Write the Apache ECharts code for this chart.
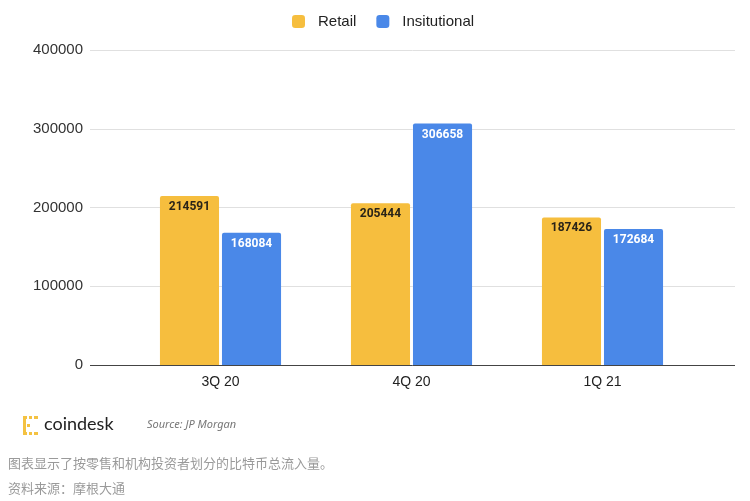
<!DOCTYPE html>
<html>
<head>
<meta charset="utf-8">
<script src="https://cdn.jsdelivr.net/npm/echarts@6/dist/echarts.min.js"></script>
<style>html,body{margin:0;padding:0;background:#fff}#c{width:750px;height:501px}</style>
</head>
<body>
<div id="c"></div>
<script>
const categories = ['3Q 20', '4Q 20', '1Q 21'];
const retail = [214591, 205444, 187426];
const institutional = [168084, 306658, 172684];
const seriesNames = ['Retail', 'Insitutional'];
const yMin = 0, yMax = 400000, yInterval = 100000;

const chart = echarts.init(document.getElementById('c'));
const labelBase = { show: true, position: 'insideTop', distance: 5, fontSize: 12, fontWeight: 'bold', fontFamily: 'Roboto, Arial, sans-serif' };
chart.setOption({
  animation: false,
  backgroundColor: '#ffffff',
  legend: {
    top: 9, left: 287, itemWidth: 13, itemHeight: 13, itemGap: 20,
    icon: 'roundRect',
    textStyle: { fontSize: 15, color: '#222', fontFamily: 'Arial, Liberation Sans, sans-serif', padding: [0, 0, 0, 8] },
    data: seriesNames
  },
  grid: [
    { left: 125, right: 52, top: 50, bottom: 136, containLabel: false },
    { left: 90, right: 15, top: 50, bottom: 136, containLabel: false }
  ],
  xAxis: [
    { type: 'category', gridIndex: 0, data: categories,
      axisLine: { show: false }, axisTick: { show: false },
      axisLabel: { fontSize: 14, color: '#222', margin: 10, fontFamily: 'Arial, Liberation Sans, sans-serif' } },
    { type: 'value', gridIndex: 1, show: false, min: 0, max: 1 }
  ],
  yAxis: [
    { type: 'value', gridIndex: 0, min: yMin, max: yMax, interval: yInterval,
      axisLine: { show: false }, axisTick: { show: false }, splitLine: { show: false },
      axisLabel: { show: false } },
    { type: 'value', gridIndex: 1, min: yMin, max: yMax, interval: yInterval,
      axisLine: { show: false }, axisTick: { show: false },
      splitLine: { show: true, lineStyle: { color: '#e0e0e0', width: 1 } },
      axisLabel: { fontSize: 15, color: '#333', margin: 7, fontFamily: 'Arial, Liberation Sans, sans-serif',
        formatter: function (v) { return String(v); } } }
  ],
  series: [
    { name: seriesNames[0], type: 'bar', xAxisIndex: 0, yAxisIndex: 0, data: retail,
      barCategoryGap: '36.6%', barGap: '5%',
      itemStyle: { color: '#F6BE3E', borderRadius: [2, 2, 0, 0] },
      label: Object.assign({ color: '#2a2418' }, labelBase) },
    { name: seriesNames[1], type: 'bar', xAxisIndex: 0, yAxisIndex: 0, data: institutional,
      barCategoryGap: '36.6%', barGap: '5%',
      itemStyle: { color: '#4A88E8', borderRadius: [2, 2, 0, 0] },
      label: Object.assign({ color: '#ffffff' }, labelBase) },
    { type: 'line', xAxisIndex: 1, yAxisIndex: 1, data: [], silent: true,
      markLine: { silent: true, symbol: 'none', label: { show: false },
        lineStyle: { color: '#444', width: 1, type: 'solid' },
        data: [{ yAxis: 0 }] } }
  ],
  graphic: [
    { type: 'rect', left: 23, top: 416, shape: { width: 3, height: 19 }, style: { fill: '#F4C242' } },
    { type: 'rect', left: 23, top: 416, shape: { width: 4, height: 3 }, style: { fill: '#F4C242' } },
    { type: 'rect', left: 29, top: 416, shape: { width: 3, height: 3 }, style: { fill: '#F4C242' } },
    { type: 'rect', left: 34, top: 416, shape: { width: 4, height: 3 }, style: { fill: '#F4C242' } },
    { type: 'rect', left: 23, top: 432, shape: { width: 4, height: 3 }, style: { fill: '#F4C242' } },
    { type: 'rect', left: 29, top: 432, shape: { width: 3, height: 3 }, style: { fill: '#F4C242' } },
    { type: 'rect', left: 34, top: 432, shape: { width: 4, height: 3 }, style: { fill: '#F4C242' } },
    { type: 'rect', left: 27, top: 424, shape: { width: 3, height: 3 }, style: { fill: '#F4C242' } },
    { type: 'text', left: 44, top: 415, style: { text: 'coindesk', fontSize: 18, fill: '#222', fontFamily: 'Lato, Noto Sans, sans-serif' } },
    { type: 'text', left: 147, top: 419, style: { text: 'Source: JP Morgan', fontSize: 11, fontStyle: 'italic', fill: '#777', fontFamily: 'Noto Sans, sans-serif' } },
    { type: 'text', left: 8, top: 457, style: { text: '图表显示了按零售和机构投资者划分的比特币总流入量。', fontSize: 13, fill: '#9a9a9a', fontFamily: 'Noto Sans CJK SC, sans-serif' } },
    { type: 'text', left: 8, top: 482, style: { text: '资料来源：摩根大通', fontSize: 13, fill: '#9a9a9a', fontFamily: 'Noto Sans CJK SC, sans-serif' } }
  ]
});
</script>
</body>
</html>
